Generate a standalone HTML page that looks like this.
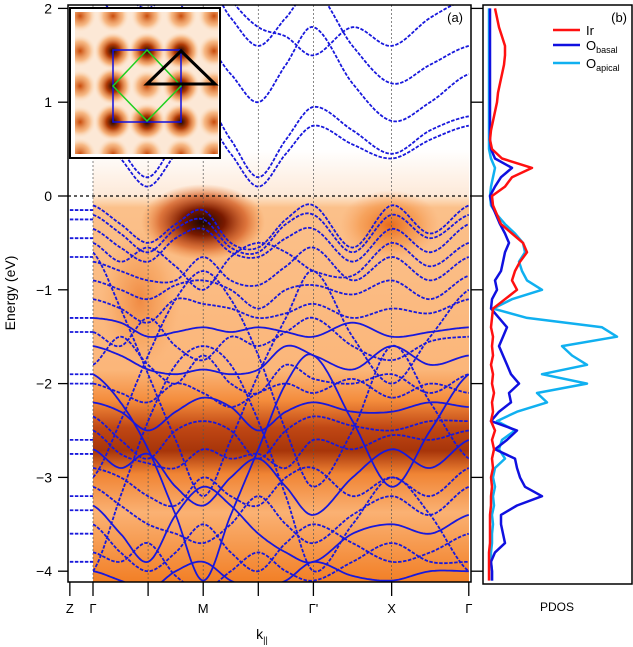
<!DOCTYPE html>
<html><head><meta charset="utf-8"><style>
html,body{margin:0;padding:0;background:#fff;}
svg{display:block;font-family:"Liberation Sans",Arial,sans-serif;}
</style></head><body>
<svg id="fig" width="633" height="647" viewBox="0 0 633 647">
<defs>
<linearGradient id="vgrad" x1="0" y1="196" x2="0" y2="582" gradientUnits="userSpaceOnUse">
<stop offset="0" stop-color="#fde6cf"/>
<stop offset="0.03" stop-color="#fbc08a"/>
<stop offset="0.45" stop-color="#fbb67a"/>
<stop offset="0.53" stop-color="#f48c3c"/>
<stop offset="0.6" stop-color="#c04714"/>
<stop offset="0.66" stop-color="#a8350a"/>
<stop offset="0.72" stop-color="#f08434"/>
<stop offset="0.82" stop-color="#fab173"/>
<stop offset="1" stop-color="#f27f26"/>
</linearGradient>
<linearGradient id="cgrad" x1="0" y1="150" x2="0" y2="196" gradientUnits="userSpaceOnUse">
<stop offset="0" stop-color="#ffffff"/>
<stop offset="1" stop-color="#fde9d8"/>
</linearGradient>
<radialGradient id="mblob"><stop offset="0" stop-color="#1a0500"/><stop offset="0.35" stop-color="#7a1a00"/><stop offset="0.7" stop-color="#d0541a" stop-opacity="0.7"/><stop offset="1" stop-color="#f08030" stop-opacity="0"/></radialGradient>
<radialGradient id="xblob"><stop offset="0" stop-color="#e86a1a"/><stop offset="0.6" stop-color="#f39040" stop-opacity="0.6"/><stop offset="1" stop-color="#f8a060" stop-opacity="0"/></radialGradient>
<radialGradient id="ispot"><stop offset="0" stop-color="#200500"/><stop offset="0.35" stop-color="#b03a05"/><stop offset="0.7" stop-color="#f08a3a" stop-opacity="0.6"/><stop offset="1" stop-color="#fde0c0" stop-opacity="0"/></radialGradient>
<radialGradient id="ispot2"><stop offset="0" stop-color="#c84a0a"/><stop offset="0.6" stop-color="#f39a50" stop-opacity="0.6"/><stop offset="1" stop-color="#fde0c0" stop-opacity="0"/></radialGradient>
<clipPath id="mainclip"><rect x="93" y="5" width="376" height="577"/></clipPath>
<clipPath id="zclip"><rect x="69" y="5" width="24" height="577"/></clipPath>
<clipPath id="pclip"><rect x="484" y="6" width="147" height="578"/></clipPath>
<clipPath id="iclip"><rect x="75" y="12" width="143" height="142"/></clipPath>
</defs>
<g id="heat" clip-path="url(#mainclip)">
<rect x="93" y="150" width="376" height="46" fill="url(#cgrad)"/>
<rect x="93" y="196" width="376" height="386" fill="url(#vgrad)"/>
<ellipse cx="203" cy="222" rx="62" ry="38" fill="url(#mblob)"/>
<ellipse cx="390" cy="225" rx="50" ry="35" fill="url(#xblob)"/>
<ellipse cx="140" cy="300" rx="40" ry="70" fill="url(#xblob)" opacity="0.6"/>
</g>
<g id="gridlines" stroke="#555" stroke-width="0.7" stroke-dasharray="2,2"></g>
<g id="bands"></g>
<line x1="68" y1="196" x2="471" y2="196" stroke="#000" stroke-width="1.3" stroke-dasharray="3,3"/>
<g id="inset">
<rect x="70" y="8" width="150" height="150" fill="#fff" stroke="#000" stroke-width="2"/>
<rect x="75" y="12" width="143" height="142" fill="#fce8d6"/>
<g id="ispots" clip-path="url(#iclip)"></g>
<rect x="113" y="50" width="68" height="72" fill="none" stroke="#1010e0" stroke-width="1.5"/>
<polygon points="147,50 181,86 147,121 113,86" fill="none" stroke="#20d020" stroke-width="1.5"/>
<polygon points="147,84 181,51 215,84" fill="none" stroke="#000" stroke-width="3"/>
</g>
<rect x="68" y="5" width="403" height="577" fill="none" stroke="#000" stroke-width="1.5"/>
<g id="yaxis"></g>
<text x="15" y="293" font-size="14" text-anchor="middle" transform="rotate(-90 15 293)">Energy (eV)</text>
<g id="xaxis"></g>
<text x="262" y="639" font-size="14" text-anchor="middle">k<tspan font-size="9" dy="4">||</tspan></text>
<text x="463" y="22" font-size="13" text-anchor="end">(a)</text>
<rect x="483" y="5" width="149" height="579" fill="none" stroke="#000" stroke-width="1.5"/>
<g id="pdos" clip-path="url(#pclip)"></g>
<text x="627" y="22" font-size="13" text-anchor="end">(b)</text>
<g font-size="13">
<g><line x1="553" y1="30" x2="580" y2="30" stroke="#ff1010" stroke-width="2.5"/><text x="586" y="35">Ir</text></g>
<g><line x1="553" y1="45" x2="580" y2="45" stroke="#1010e0" stroke-width="2.5"/><text x="586" y="50">O<tspan font-size="9" dy="3">basal</tspan></text></g>
<g><line x1="553" y1="63" x2="580" y2="63" stroke="#10b0f0" stroke-width="2.5"/><text x="586" y="68">O<tspan font-size="9" dy="3">apical</tspan></text></g>
</g>
<text x="557" y="611" font-size="12" text-anchor="middle">PDOS</text>
</svg>
<script>
// ---- data ----
var yTicks = [2, 1, 0, -1, -2, -3, -4];
var kTickPos = [-0.42, 0, 1, 2, 3, 4, 5.42, 6.82];
var kTickLabels = ["Z", "Γ", "", "M", "", "Γ'", "X", "Γ"];
var kGrid = [0, 0.5, 1, 1.5, 2, 2.5, 3, 3.5, 4, 4.71, 5.42, 6.12, 6.82];
var condBands = [
 [0.75,0.4,0.1,0.45,0.8,0.45,0.1,0.45,0.75,0.55,0.4,0.6,0.75],
 [0.9,0.5,0.2,0.6,1.0,0.6,0.2,0.6,0.95,0.7,0.45,0.7,0.85],
 [1.5,1.1,0.8,1.2,1.6,1.3,1.0,1.4,1.8,1.2,0.8,1.0,1.3],
 [2.2,1.8,1.4,1.9,2.3,1.9,1.6,1.9,2.2,1.6,1.2,1.4,1.6],
 [2.5,2.2,2.0,2.3,2.6,2.1,1.8,1.7,1.5,1.8,1.6,1.9,2.1]
];
var valDashed = [
 [-0.1,-0.3,-0.5,-0.3,-0.15,-0.5,-0.55,-0.25,-0.1,-0.55,-0.1,-0.4,-0.1],
 [-0.2,-0.4,-0.6,-0.35,-0.25,-0.55,-0.6,-0.3,-0.2,-0.6,-0.2,-0.45,-0.2],
 [-0.35,-0.55,-0.7,-0.45,-0.35,-0.6,-0.65,-0.45,-0.35,-0.7,-0.35,-0.6,-0.3],
 [-0.5,-0.7,-0.55,-0.75,-1.0,-0.65,-0.5,-0.6,-0.8,-0.85,-0.5,-0.75,-0.5],
 [-0.7,-0.8,-0.9,-0.9,-0.65,-0.9,-0.95,-0.75,-0.55,-0.9,-0.65,-0.9,-0.65],
 [-0.9,-1.0,-1.1,-0.95,-0.9,-1.0,-1.2,-1.0,-0.95,-1.05,-0.9,-1.1,-0.85],
 [-1.1,-1.2,-1.35,-1.1,-1.15,-1.2,-1.3,-1.25,-1.15,-1.3,-1.2,-1.25,-1.1],
 [-1.45,-1.6,-1.3,-1.6,-1.75,-1.5,-1.6,-1.45,-1.3,-1.6,-1.75,-1.55,-1.5],
 [-1.8,-1.5,-1.8,-2.0,-1.7,-2.0,-2.1,-1.8,-1.95,-2.0,-1.9,-2.1,-1.9],
 [-2.0,-2.1,-2.2,-2.0,-2.1,-2.25,-2.1,-2.0,-2.1,-1.95,-2.15,-2.0,-2.1],
 [-2.35,-2.6,-2.8,-2.5,-2.4,-2.5,-2.8,-2.5,-2.35,-2.45,-2.5,-2.4,-2.4],
 [-2.5,-2.75,-2.85,-2.9,-2.7,-2.8,-2.75,-2.9,-2.6,-2.7,-2.55,-2.6,-2.5],
 [-2.9,-3.0,-3.2,-3.3,-3.0,-3.2,-3.3,-3.0,-2.9,-3.2,-3.0,-3.2,-2.9],
 [-3.1,-3.3,-3.5,-3.6,-3.7,-3.5,-3.2,-3.5,-3.7,-3.4,-3.2,-3.4,-3.1],
 [-3.5,-3.8,-4.0,-3.8,-3.5,-3.8,-4.0,-3.7,-3.5,-3.7,-3.9,-3.8,-3.6],
 [-3.8,-3.9,-3.7,-4.05,-4.2,-4.0,-3.8,-4.0,-4.1,-3.9,-3.7,-3.9,-3.9],
 [-0.6,-1.2,-1.9,-2.6,-3.2,-2.6,-1.9,-1.3,-0.8,-1.5,-2.0,-1.5,-1.0],
 [-3.0,-2.4,-1.7,-1.1,-0.8,-1.1,-1.7,-2.5,-3.1,-2.5,-1.6,-2.2,-2.8],
 [-4.0,-3.2,-2.4,-1.8,-1.6,-1.8,-2.4,-3.2,-4.0,-3.5,-3.0,-3.4,-4.0]
];
var valSolid = [
 [-1.3,-1.35,-1.5,-1.45,-1.4,-1.45,-1.4,-1.45,-1.5,-1.35,-1.5,-1.45,-1.4],
 [-1.6,-1.7,-1.85,-1.9,-1.85,-1.9,-1.85,-1.6,-1.7,-1.85,-1.6,-1.8,-1.7],
 [-2.2,-2.3,-2.5,-2.3,-2.15,-2.25,-2.5,-2.3,-2.2,-2.3,-2.3,-2.2,-2.25],
 [-2.7,-2.9,-2.75,-3.1,-3.3,-3.0,-2.8,-3.1,-3.4,-3.0,-2.7,-2.9,-2.6],
 [-3.3,-3.6,-3.9,-3.4,-3.1,-3.3,-3.6,-3.8,-3.9,-3.6,-3.5,-3.6,-3.4],
 [-1.9,-2.2,-2.7,-3.4,-4.1,-3.4,-2.7,-2.0,-1.7,-2.4,-3.1,-2.5,-1.9],
 [-4.0,-4.1,-4.2,-4.0,-3.9,-4.1,-4.2,-4.1,-3.9,-4.05,-4.1,-4.0,-4.0]
];
var zBandE = [1.5,1.3,0.85,0.6,-0.15,-0.25,-0.45,-0.65,-1.3,-1.45,-1.9,-2.0,-2.6,-2.75,-3.2,-3.35,-3.6,-3.9];
var dosE = [];
for (var i = 0; i < 62; i++) dosE.push(Math.round((2.0 - i * 0.1) * 10) / 10);
var dosIr = [8,10,12,15,18,18,17,15,13,11,10,8,6,4,3,5,15,45,25,18,5,
 6,10,14,25,36,40,33,28,25,30,18,6,5,4,6,5,6,4,6,5,7,5,6,4,8,5,7,5,6,4,5,4,4,3,3,3,3,2,2,2,2];
var dosObasal = [3,3,3,3,3,3,3,3,3,3,3,3,3,3,3,4,8,25,14,8,3,
 5,9,13,18,22,18,16,14,8,10,5,4,12,20,16,12,16,20,24,32,22,24,12,4,30,20,8,28,30,33,38,55,30,14,14,16,18,8,4,5,5];
var dosOapical = [2,2,2,2,2,2,2,2,2,2,2,2,2,2,2,2,4,8,6,4,3,
 4,10,18,28,36,38,32,35,40,55,25,6,40,115,130,75,85,100,55,100,50,60,30,10,28,15,12,18,8,6,8,6,7,5,6,5,5,4,4,5,5];

// ---- scales ----
function yS(e){ return 196 - e * 93.8; }
function xS(k){ return 93 + k * 55.1; }
function dS(v){ return 487 + v; }
var NS = "http://www.w3.org/2000/svg";
function mk(tag, attrs, parent){ var el = document.createElementNS(NS, tag); for (var a in attrs) el.setAttribute(a, attrs[a]); parent.appendChild(el); return el; }

function bandPath(vals){
  var pts = [];
  for (var i = 0; i < kGrid.length - 1; i++) {
    var p0 = vals[Math.max(i-1,0)], p1 = vals[i], p2 = vals[i+1], p3 = vals[Math.min(i+2, vals.length-1)];
    for (var s = 0; s < 16; s++) {
      var t = s / 16;
      var v = 0.5*((2*p1) + (-p0+p2)*t + (2*p0-5*p1+4*p2-p3)*t*t + (-p0+3*p1-3*p2+p3)*t*t*t);
      var k = kGrid[i] + (kGrid[i+1]-kGrid[i]) * t;
      pts.push(xS(k).toFixed(1) + "," + yS(v).toFixed(1));
    }
  }
  pts.push(xS(kGrid[kGrid.length-1]).toFixed(1) + "," + yS(vals[vals.length-1]).toFixed(1));
  return "M" + pts.join("L");
}

var bandsG = document.getElementById("bands");
var mainG = mk("g", {"clip-path": "url(#mainclip)"}, bandsG);
condBands.concat(valDashed).forEach(function(b){
  var p = mk("path", {d: bandPath(b), fill: "none", stroke: "#1818dc", "stroke-width": 1.8, "stroke-dasharray": "3.5,1.5"}, mainG);
  
  
});
valSolid.forEach(function(b){
  var p = mk("path", {d: bandPath(b), fill: "none", stroke: "#1818dc", "stroke-width": 1.8}, mainG);
  
  
});
var zG = mk("g", {"clip-path": "url(#zclip)"}, bandsG);
zBandE.forEach(function(e){
  var l = mk("line", {x1: xS(kTickPos[0]), x2: xS(0), y1: yS(e), y2: yS(e), stroke: "#1818dc", "stroke-width": 1.8, "stroke-dasharray": "3.5,1.5"}, zG);
  
  
});

var gl = document.getElementById("gridlines");
kTickPos.slice(1, -1).forEach(function(k){
  var l = mk("line", {x1: xS(k), x2: xS(k), y1: 5, y2: 582}, gl);
  
  
});

var ya = document.getElementById("yaxis");
yTicks.forEach(function(t){
  var l = mk("line", {x1: 58, x2: 68, y1: yS(t), y2: yS(t), stroke: "#000", "stroke-width": 1.3}, ya);
  
  
  var r = mk("line", {x1: 471, x2: 483, y1: yS(t), y2: yS(t), stroke: "#000", "stroke-width": 1.3}, ya);
  
  
  var tx = mk("text", {x: 52, y: yS(t) + 5, "font-size": 14, "text-anchor": "end"}, ya);
  tx.textContent = (t < 0 ? "\u2212" + (-t) : "" + t);
  
  
});

var xa = document.getElementById("xaxis");
kTickPos.forEach(function(k, i){
  var l = mk("line", {x1: xS(k), x2: xS(k), y1: 582, y2: 596, stroke: "#000", "stroke-width": 1.3}, xa);
  
  
  var tx = mk("text", {x: xS(k), y: 613, "font-size": 13, "text-anchor": "middle"}, xa);
  tx.textContent = kTickLabels[i];
  
  
});

var pg = document.getElementById("pdos");
function dosPath(arr){
  return "M" + arr.map(function(v, i){ return dS(v).toFixed(1) + "," + yS(dosE[i]).toFixed(1); }).join("L");
}
[[dosOapical, "#10b0f0", "pdos-o-apical"], [dosObasal, "#1010e0", "pdos-o-basal"], [dosIr, "#ff1010", "pdos-ir"]].forEach(function(s){
  var p = mk("path", {d: dosPath(s[0]), fill: "none", stroke: s[1], "stroke-width": 2.5, "stroke-linejoin": "round"}, pg);
  
  
});

var ig = document.getElementById("ispots");
var spotX = [80, 113, 147, 181, 214];
var spotY = [16, 51, 86, 122, 154];
spotY.forEach(function(sy, r){
  spotX.forEach(function(sx, c){
    var strong = (r >= 1 && r <= 3 && c >= 1 && c <= 3 && !(r == 2 && c == 2));
    var e = mk("ellipse", {cx: sx, cy: sy, rx: strong ? 19 : 16, ry: strong ? 19 : 16, fill: strong ? "url(#ispot)" : "url(#ispot2)"}, ig);
    
    
  });
});
</script>
</body></html>
